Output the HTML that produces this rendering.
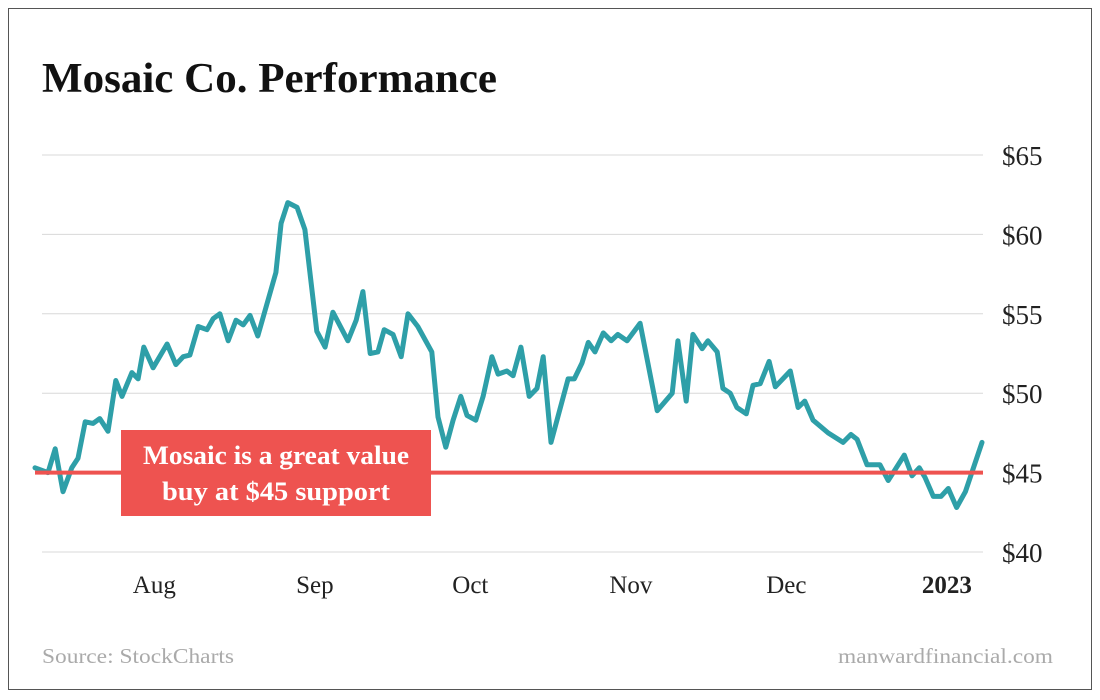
<!DOCTYPE html>
<html><head><meta charset="utf-8"><style>
body{margin:0;background:#fff;}
svg{display:block;font-family:"Liberation Serif",serif;}
</style></head><body>
<svg id="chart" width="1100" height="700" viewBox="0 0 1100 700">
<rect x="8.5" y="8.5" width="1083" height="681" fill="#fff" stroke="#555" stroke-width="1"/>
<text x="42" y="92" font-size="42" font-weight="bold" fill="#111" textLength="455" lengthAdjust="spacingAndGlyphs">Mosaic Co. Performance</text>
<g id="grid"></g>
<g id="ylabels"></g>
<g id="xlabels"></g>
<g id="series"></g>
<g id="annot"></g>
<text x="42" y="663" font-size="21" fill="#aaa" textLength="192" lengthAdjust="spacingAndGlyphs">Source: StockCharts</text>
<text x="1053" y="663" font-size="21" fill="#aaa" text-anchor="end" textLength="215" lengthAdjust="spacingAndGlyphs">manwardfinancial.com</text>
</svg>
<script>
const yTicks = [40, 45, 50, 55, 60, 65];
const yTickLabels = ["$40", "$45", "$50", "$55", "$60", "$65"];
const monthDays = [31, 62, 92, 123, 153, 184];
const monthLabels = ["Aug", "Sep", "Oct", "Nov", "Dec", "2023"];
const supportLevel = 45;
const days = [7.0,9.5,10.9,12.4,14.1,15.3,16.7,18.2,19.5,21.1,22.6,23.8,25.7,26.9,28.0,29.8,32.5,34.2,35.6,36.9,38.5,40.2,41.4,42.7,44.3,45.8,47.2,48.5,50.0,53.5,54.5,55.8,57.6,59.1,61.4,63.0,64.5,67.4,69.0,70.3,71.7,73.2,74.4,76.1,77.7,79.0,80.9,83.6,84.8,86.3,87.7,89.2,90.4,92.1,93.5,95.2,96.4,98.1,99.3,100.8,102.4,103.9,105.1,106.6,109.9,111.1,112.6,113.8,115.1,116.7,118.2,119.5,121.3,123.8,127.1,130.0,131.1,132.7,134.0,135.8,136.9,138.7,139.8,141.2,142.5,144.3,145.6,147.0,148.7,149.9,152.8,154.3,155.6,157.2,160.1,163.0,164.5,165.7,167.6,170.1,171.7,174.8,176.3,177.7,178.8,180.4,181.9,183.3,184.9,186.6,189.8];
const prices = [45.3,45.0,46.5,43.8,45.3,45.9,48.2,48.1,48.4,47.6,50.8,49.8,51.3,50.9,52.9,51.6,53.1,51.8,52.3,52.4,54.2,54.0,54.7,55.0,53.3,54.6,54.3,54.9,53.6,57.6,60.7,62.0,61.7,60.3,53.9,52.9,55.1,53.3,54.6,56.4,52.5,52.6,54.0,53.7,52.3,55.0,54.2,52.6,48.5,46.6,48.3,49.8,48.6,48.3,49.8,52.3,51.2,51.4,51.1,52.9,49.8,50.3,52.3,46.9,50.9,50.9,51.9,53.2,52.6,53.8,53.3,53.7,53.3,54.4,48.9,50.0,53.3,49.5,53.7,52.8,53.3,52.6,50.3,50.0,49.1,48.7,50.5,50.6,52.0,50.4,51.4,49.1,49.5,48.3,47.5,46.9,47.4,47.1,45.5,45.5,44.5,46.1,44.8,45.3,44.7,43.5,43.5,44.0,42.8,43.8,46.9];

const NS = "http://www.w3.org/2000/svg";
const x = d => 35 + (d - 7) * (948 / 183);
const y = v => 552 - (v - 40) * (397 / 25);
function mk(tag, attrs, parent) {
  const el = document.createElementNS(NS, tag);
  for (const k in attrs) el.setAttribute(k, attrs[k]);
  parent.appendChild(el);
  return el;
}
const grid = document.getElementById('grid');
const yl = document.getElementById('ylabels');
yTicks.forEach((t, i) => {
  const g = mk('line', {x1: 42, x2: 983, y1: y(t), y2: y(t), stroke: '#d8d8d8', 'stroke-width': 1}, grid);
  
  
  const tx = mk('text', {x: 1002, y: y(t) + 10, 'font-size': 27, fill: '#222'}, yl);
  tx.textContent = yTickLabels[i];
  
  
});
const xl = document.getElementById('xlabels');
monthDays.forEach((d, i) => {
  const last = i === monthDays.length - 1;
  const tx = mk('text', {x: x(d) - 5, y: 593, 'font-size': 25, 'text-anchor': 'middle', fill: '#222', 'font-weight': last ? 'bold' : 'normal'}, xl);
  tx.textContent = monthLabels[i];
  
  
});
const an = document.getElementById('annot');
const sl = mk('line', {x1: 35, x2: 983, y1: y(supportLevel), y2: y(supportLevel), stroke: '#ee5350', 'stroke-width': 4}, an);


const ser = document.getElementById('series');
const pts = days.map((d, i) => x(d).toFixed(1) + ',' + y(prices[i]).toFixed(1)).join(' ');
const pl = mk('polyline', {points: pts, fill: 'none', stroke: '#2e9fa8', 'stroke-width': 5, 'stroke-linejoin': 'round', 'stroke-linecap': 'round'}, ser);


const box = mk('rect', {x: 121, y: 430, width: 310, height: 86, fill: '#ee5350'}, an);


const t1 = mk('text', {x: 276, y: 464, 'font-size': 26, 'font-weight': 'bold', fill: '#fff', 'text-anchor': 'middle', textLength: 266, lengthAdjust: 'spacingAndGlyphs'}, an);
t1.textContent = 'Mosaic is a great value';


const t2 = mk('text', {x: 276, y: 500, 'font-size': 26, 'font-weight': 'bold', fill: '#fff', 'text-anchor': 'middle', textLength: 228, lengthAdjust: 'spacingAndGlyphs'}, an);
t2.textContent = 'buy at $45 support';


</script>
</body></html>
